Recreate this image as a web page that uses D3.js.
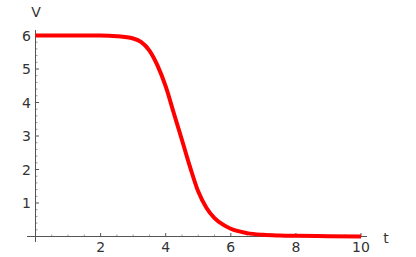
<!DOCTYPE html>
<html>
<head>
<meta charset="utf-8">
<script src="https://cdn.jsdelivr.net/npm/d3@7"></script>
<style>
  html, body { margin: 0; padding: 0; background: #fff; }
  svg { display: block; }
</style>
</head>
<body>
<svg id="chart" width="416" height="257"></svg>
<script>
// values
const tValues = [0, 1, 2, 2.5, 3, 3.25, 3.5, 3.75, 4, 4.25, 4.5, 4.75, 5, 5.25, 5.5, 5.75, 6, 6.5, 7, 7.5, 8, 9, 10];
const vValues = [6, 6, 6, 5.98, 5.91, 5.8, 5.55, 5.1, 4.48, 3.68, 2.88, 2.07, 1.34, 0.86, 0.55, 0.36, 0.23, 0.1, 0.05, 0.03, 0.02, 0.01, 0];
const xTicks = [2, 4, 6, 8, 10];
const yTicks = [1, 2, 3, 4, 5, 6];

const font_family = "DejaVu Sans, sans-serif";
const font_size = 14;
const text_color = "#333";
const axis_color = "#555";

const svg = d3.select("#chart");

const data = tValues.map((t, i) => ({ t: t, v: vValues[i] }));

// scales
const x = d3.scaleLinear().domain([0, 10]).range([35.5, 361]);
const y = d3.scaleLinear().domain([0, 6]).range([236.5, 35.5]);

// axes lines
svg.append("line")
    .attr("x1", 27).attr("x2", 367)
    .attr("y1", y(0)).attr("y2", y(0))
    .attr("stroke", axis_color).attr("stroke-width", 1);

svg.append("line")
    .attr("x1", x(0)).attr("x2", x(0))
    .attr("y1", 30).attr("y2", 242)
    .attr("stroke", axis_color).attr("stroke-width", 1);

// x ticks (minor every 0.5)
const xMinor = d3.range(0.5, 10.01, 0.5).filter(d => !xTicks.includes(d));
svg.append("g").selectAll("line")
    .data(xMinor)
    .enter().append("line")
    .attr("x1", d => x(d)).attr("x2", d => x(d))
    .attr("y1", y(0)).attr("y2", y(0) - 2)
    .attr("stroke", axis_color).attr("stroke-width", 0.6);

svg.append("g").selectAll("line")
    .data(xTicks)
    .enter().append("line")
    .attr("x1", d => x(d)).attr("x2", d => x(d))
    .attr("y1", y(0)).attr("y2", y(0) - 3.5)
    .attr("stroke", axis_color).attr("stroke-width", 1);

svg.append("g").selectAll("text")
    .data(xTicks)
    .enter().append("text")
    .attr("x", d => x(d))
    .attr("y", 252)
    .attr("text-anchor", "middle")
    .attr("fill", text_color)
    .attr("font-family", font_family)
    .attr("font-size", font_size)
    .text(d => d);

// y ticks (minor every 0.2)
const yMinor = d3.range(1, 30).map(d => d / 5).filter(d => !yTicks.includes(Math.round(d * 1000) / 1000));
svg.append("g").selectAll("line")
    .data(yMinor)
    .enter().append("line")
    .attr("x1", x(0)).attr("x2", x(0) + 2)
    .attr("y1", d => y(d)).attr("y2", d => y(d))
    .attr("stroke", axis_color).attr("stroke-width", 0.6);

svg.append("g").selectAll("line")
    .data(yTicks)
    .enter().append("line")
    .attr("x1", x(0)).attr("x2", x(0) + 3.5)
    .attr("y1", d => y(d)).attr("y2", d => y(d))
    .attr("stroke", axis_color).attr("stroke-width", 1);

svg.append("g").selectAll("text")
    .data(yTicks)
    .enter().append("text")
    .attr("x", 31)
    .attr("y", d => y(d) + 5)
    .attr("text-anchor", "end")
    .attr("fill", text_color)
    .attr("font-family", font_family)
    .attr("font-size", font_size)
    .text(d => d);

// axis labels
svg.append("text")
    .attr("x", 36).attr("y", 17)
    .attr("text-anchor", "middle")
    .attr("fill", text_color)
    .attr("font-family", font_family)
    .attr("font-size", font_size)
    .text("V");

svg.append("text")
    .attr("x", 386).attr("y", 243)
    .attr("text-anchor", "middle")
    .attr("fill", text_color)
    .attr("font-family", font_family)
    .attr("font-size", font_size)
    .text("t");

// curve
const line = d3.line()
    .x(d => x(d.t))
    .y(d => y(d.v))
    .curve(d3.curveMonotoneX);

svg.append("path")
    .datum(data)
    .attr("fill", "none")
    .attr("stroke", "#ff0000")
    .attr("stroke-width", 4)
    .attr("d", line);
</script>
</body>
</html>
